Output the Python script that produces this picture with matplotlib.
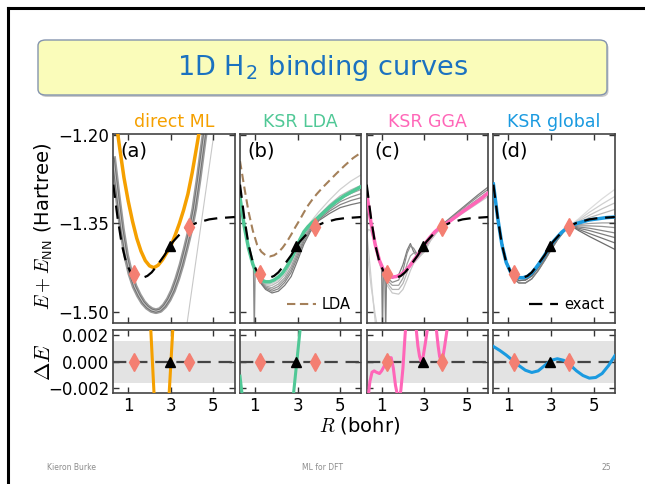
import numpy as np
import matplotlib
matplotlib.use("Agg")
import matplotlib.pyplot as plt
from matplotlib.patches import FancyBboxPatch
from matplotlib.lines import Line2D
from matplotlib.ticker import FuncFormatter

plt.rcParams["font.family"] = ["DejaVu Sans"]
plt.rcParams["mathtext.fontset"] = "cm"

# ---- data ----
R_FINE = [0.3, 0.5, 0.7, 0.9, 1.1, 1.3, 1.5, 1.7, 1.9, 2.1, 2.3, 2.5, 2.7,
          2.9, 3.1, 3.3, 3.5, 3.7, 3.9, 4.2, 4.5, 4.8, 5.2, 5.6, 6.0]
E_EXACT = [-1.284, -1.340, -1.386, -1.416, -1.432, -1.439, -1.442, -1.442, -1.439,
           -1.433, -1.424, -1.414, -1.404, -1.392, -1.381, -1.373, -1.365, -1.359,
           -1.354, -1.349, -1.346, -1.343, -1.341, -1.340, -1.339]
E_GLOBAL = [-1.283, -1.340, -1.386, -1.416, -1.432, -1.439, -1.442, -1.442, -1.440,
            -1.434, -1.425, -1.415, -1.404, -1.392, -1.381, -1.373, -1.365, -1.359,
            -1.354, -1.350, -1.347, -1.344, -1.342, -1.340, -1.339]
E_KSR_LDA = [-1.306, -1.355, -1.392, -1.419, -1.437, -1.446, -1.449, -1.449, -1.446,
             -1.441, -1.434, -1.423, -1.410, -1.395, -1.378, -1.364, -1.355, -1.348,
             -1.342, -1.332, -1.322, -1.313, -1.303, -1.295, -1.287]
E_LDA = [-1.244, -1.288, -1.330, -1.362, -1.386, -1.398, -1.404, -1.406, -1.404,
         -1.399, -1.391, -1.381, -1.369, -1.356, -1.344, -1.331, -1.319, -1.309,
         -1.300, -1.288, -1.277, -1.266, -1.252, -1.239, -1.229]
E_KSR_GGA = [-1.298, -1.349, -1.386, -1.413, -1.430, -1.438, -1.441, -1.440, -1.437,
             -1.431, -1.423, -1.413, -1.403, -1.392, -1.381, -1.372, -1.364, -1.358,
             -1.353, -1.346, -1.338, -1.330, -1.320, -1.310, -1.298]

R_ML = [0.48, 0.6, 0.8, 1.0, 1.2, 1.4, 1.6, 1.8, 2.0, 2.2, 2.4, 2.6, 2.8, 3.0,
        3.2, 3.4, 3.6, 3.8, 4.0, 4.2, 4.35]
E_ML = [-1.190, -1.222, -1.272, -1.312, -1.346, -1.375, -1.397, -1.413, -1.422,
        -1.425, -1.421, -1.412, -1.400, -1.388, -1.370, -1.350, -1.327, -1.300,
        -1.264, -1.222, -1.190]

# grey ensembles
R_GA = [0.3, 0.5, 0.7, 0.9, 1.1, 1.3, 1.5, 1.7, 1.9, 2.1, 2.3, 2.5, 2.7, 2.9,
        3.1, 3.3, 3.5, 3.7, 3.9, 4.1, 4.3, 4.5, 4.65]
E_GA = [-1.241, -1.302, -1.359, -1.404, -1.435, -1.457, -1.472, -1.484, -1.492,
        -1.497, -1.499, -1.497, -1.490, -1.479, -1.464, -1.444, -1.420, -1.392,
        -1.362, -1.325, -1.275, -1.220, -1.180]
R_GA_OUT = [3.7, 5.05]
E_GA_OUT = [-1.535, -1.190]

R_GB = [0.3, 0.6, 0.9, 1.2, 1.5, 1.8, 2.1, 2.4, 2.7, 3.0, 3.3, 3.6, 4.0, 4.5, 5.0, 5.5, 6.0]
E_GB = [
    [-1.306, -1.375, -1.420, -1.443, -1.452, -1.452, -1.446, -1.432, -1.410, -1.385, -1.365, -1.348, -1.330, -1.310, -1.292, -1.278, -1.267],
    [-1.306, -1.375, -1.420, -1.444, -1.454, -1.455, -1.449, -1.437, -1.417, -1.391, -1.368, -1.352, -1.336, -1.318, -1.303, -1.293, -1.285],
    [-1.306, -1.375, -1.420, -1.445, -1.456, -1.459, -1.453, -1.442, -1.423, -1.397, -1.372, -1.355, -1.339, -1.322, -1.308, -1.299, -1.292],
    [-1.306, -1.375, -1.420, -1.446, -1.458, -1.462, -1.457, -1.446, -1.428, -1.402, -1.376, -1.358, -1.341, -1.326, -1.313, -1.305, -1.299],
    [-1.306, -1.375, -1.420, -1.447, -1.460, -1.465, -1.461, -1.450, -1.433, -1.407, -1.380, -1.361, -1.343, -1.329, -1.318, -1.311, -1.306],
    [-1.306, -1.375, -1.420, -1.448, -1.462, -1.468, -1.465, -1.455, -1.440, -1.413, -1.385, -1.364, -1.345, -1.333, -1.323, -1.318, -1.314],
]
R_GB_SPIKE = [0.93, 0.97, 1.01]
E_GB_SPIKE = [-1.421, -1.540, -1.430]

R_GC = [0.3, 0.6, 0.9, 1.2, 1.5, 1.8, 2.0, 2.2, 2.35, 2.5, 2.7, 3.0, 3.3, 3.6, 4.0, 4.5, 5.0, 5.5, 6.0]
E_GC = [
    [-1.300, -1.368, -1.413, -1.436, -1.443, -1.437, -1.420, -1.395, -1.384, -1.398, -1.402, -1.389, -1.372, -1.361, -1.347, -1.332, -1.317, -1.302, -1.288],
    [-1.300, -1.368, -1.414, -1.440, -1.450, -1.446, -1.430, -1.400, -1.388, -1.392, -1.404, -1.394, -1.375, -1.362, -1.349, -1.334, -1.319, -1.305, -1.292],
    [-1.300, -1.368, -1.415, -1.444, -1.455, -1.455, -1.443, -1.418, -1.405, -1.400, -1.405, -1.397, -1.377, -1.363, -1.350, -1.336, -1.322, -1.309, -1.296],
    [-1.300, -1.369, -1.417, -1.448, -1.462, -1.462, -1.452, -1.433, -1.418, -1.410, -1.408, -1.398, -1.378, -1.364, -1.351, -1.338, -1.325, -1.312, -1.300],
    [-1.300, -1.369, -1.418, -1.452, -1.468, -1.470, -1.462, -1.445, -1.430, -1.418, -1.410, -1.398, -1.379, -1.365, -1.352, -1.340, -1.328, -1.316, -1.304],
]
R_GC_LEFT = [[0.3, 0.45, 0.6, 0.75], [0.3, 0.5, 0.7, 0.85], [0.3, 0.38, 0.48, 0.6]]
E_GC_LEFT = [[-1.362, -1.420, -1.480, -1.535], [-1.392, -1.455, -1.505, -1.535],
             [-1.368, -1.360, -1.362, -1.375]]
R_GC_SPIKES = [[1.0, 1.04, 1.08], [1.15, 1.19, 1.23]]
E_GC_SPIKES = [[-1.425, -1.540, -1.437], [-1.437, -1.540, -1.440]]

R_GD_CORE = [0.3, 0.6, 0.9, 1.2, 1.5, 1.8, 2.1, 2.4, 2.7, 3.0, 3.3, 3.6, 3.9]
E_GD_CORE = [
    [-1.284, -1.364, -1.414, -1.436, -1.441, -1.440, -1.433, -1.419, -1.404, -1.387, -1.372, -1.361, -1.353],
    [-1.284, -1.364, -1.416, -1.440, -1.447, -1.446, -1.439, -1.425, -1.409, -1.391, -1.375, -1.362, -1.353],
    [-1.284, -1.365, -1.418, -1.443, -1.451, -1.451, -1.444, -1.430, -1.413, -1.395, -1.378, -1.364, -1.353],
]
R_GD_TAIL = [4.3, 4.8, 5.4, 6.0]
E_GD_TAIL = [
    [-1.342, -1.326, -1.308, -1.292],
    [-1.344, -1.331, -1.317, -1.304],
    [-1.346, -1.336, -1.325, -1.315],
    [-1.348, -1.340, -1.333, -1.326],
    [-1.350, -1.345, -1.341, -1.338],
    [-1.352, -1.350, -1.349, -1.349],
    [-1.354, -1.354, -1.355, -1.357],
    [-1.356, -1.358, -1.362, -1.366],
    [-1.358, -1.362, -1.368, -1.374],
    [-1.360, -1.367, -1.375, -1.383],
    [-1.362, -1.372, -1.383, -1.394],
]

# training / validation molecules
R_TRAIN = [1.26, 3.83]
E_TRAIN = [-1.436, -1.356]
R_VALID = [2.95]
E_VALID = [-1.389]

# energy errors (Hartree)
R_DE_ML = [2.05, 2.22, np.nan, 2.91, 3.10]
DE_ML = [0.0027, -0.0027, np.nan, -0.0027, 0.0027]
R_DE_LDA = [0.3, 0.42, np.nan, 2.80, 3.13]
DE_LDA = [-0.0011, -0.0028, np.nan, -0.0026, 0.0026]
R_DE_GGA = [0.35, 0.45, 0.55, 0.65, 0.75, 0.9, 1.0, 1.1, 1.22, 1.35, 1.45, 1.55, 1.65,
            1.75, 1.82, 1.9, 2.0, 2.1, 2.3, 2.5, 2.62, 2.7, 2.78, 2.86, 2.95, 3.05,
            3.15, 3.3, 3.5, 3.57, 3.65, 3.72, 3.8, 3.88, 3.96, 4.05, 4.15]
DE_GGA = [-0.0030, -0.0015, -0.0008, -0.0007, -0.0008, -0.0009, -0.0007, -0.0004, 0.0,
          0.0003, 0.0003, -0.0005, -0.0018, -0.0026, -0.0028, -0.0022, -0.0005, 0.0020,
          0.0060, 0.0060, 0.0025, 0.0012, 0.0004, 0.0000, 0.0004, 0.0014, 0.0025,
          0.0060, 0.0060, 0.0024, 0.0012, 0.0004, 0.0000, 0.0004, 0.0012, 0.0022, 0.0034]
R_DE_GLOBAL = [0.3, 0.6, 0.9, 1.2, 1.5, 1.8, 2.1, 2.4, 2.7, 3.0, 3.3, 3.6, 3.9,
               4.2, 4.5, 4.8, 5.1, 5.4, 5.7, 6.0]
DE_GLOBAL = [0.00115, 0.00085, 0.0005, 0.0001, -0.0003, -0.00065, -0.00082, -0.0007,
             -0.0003, 0.0001, 0.00022, 0.0001, -0.00025, -0.0007, -0.00105, -0.00125,
             -0.0012, -0.0009, -0.0003, 0.00045]
CHEM_ACC = 0.0016

TITLES = ["direct ML", "KSR LDA", "KSR GGA", "KSR global"]
LETTERS = ["(a)", "(b)", "(c)", "(d)"]

ORANGE = "#F5A000"
GREEN = "#50C896"
PINK = "#FF66B8"
BLUE = "#1A9AE0"
SALMON = "#F47F72"
BROWN = "#A4805A"
COLORS = [ORANGE, GREEN, PINK, BLUE]

W, H = 645, 484
fig = plt.figure(figsize=(W / 100, H / 100), dpi=100)

# slide decorations
fig.add_artist(Line2D([8 / W, 8 / W], [0, 1 - 8 / H], color="black", lw=2.2))
fig.add_artist(Line2D([8 / W, 1], [1 - 8 / H, 1 - 8 / H], color="black", lw=2.2))
box_x, box_y, box_w, box_h = 38 / W, 1 - 95 / H, 569 / W, 55 / H
fig.add_artist(FancyBboxPatch((box_x + 1.5 / W, box_y - 2 / H), box_w, box_h,
                              boxstyle="round,pad=0,rounding_size=0.012",
                              transform=fig.transFigure, fc="#c9c9c9", ec="none"))
fig.add_artist(FancyBboxPatch((box_x, box_y), box_w, box_h,
                              boxstyle="round,pad=0,rounding_size=0.012",
                              transform=fig.transFigure, fc="#FAFCBA", ec="#8494AE", lw=1))
fig.text(box_x + box_w / 2, box_y + box_h / 2, "1D H$_\\mathregular{2}$ binding curves",
         ha="center", va="center", fontsize=19.5, color="#1B72C0")
fig.text(47 / W, 1 - 467 / H, "Kieron Burke", fontsize=5.5, color="#8c8c8c", va="center")
fig.text(323 / W, 1 - 467 / H, "ML for DFT", fontsize=5.5, color="#8c8c8c",
         va="center", ha="center")
fig.text(611 / W, 1 - 467 / H, "25", fontsize=5.5, color="#8c8c8c", va="center", ha="right")

lefts = [113.3, 240.0, 366.7, 493.4]
pw = 121.5
top_axes, bot_axes = [], []
for left in lefts:
    top_axes.append(fig.add_axes([left / W, 1 - 323 / H, pw / W, 189 / H]))
    bot_axes.append(fig.add_axes([left / W, 1 - 393.3 / H, pw / W, 63.3 / H]))

minus = lambda fmt: FuncFormatter(lambda v, p: (fmt % v).replace("-", "\u2212"))

for i, (ax, bx) in enumerate(zip(top_axes, bot_axes)):
    for a in (ax, bx):
        a.set_xlim(0.3, 6.0)
        a.set_xticks([1, 3, 5])
        a.tick_params(direction="in", top=True, right=True, length=4, width=1,
                      labelsize=12, color="#333333", pad=3)
        for s in a.spines.values():
            s.set_color("#444444")
            s.set_linewidth(1.2)
    ax.set_ylim(-1.519, -1.198)
    ax.set_yticks([-1.50, -1.35, -1.20])
    bx.set_ylim(-0.0024, 0.0024)
    bx.set_yticks([-0.002, 0.0, 0.002])
    ax.tick_params(labelbottom=False)
    if i == 0:
        ax.yaxis.set_major_formatter(minus("%.2f"))
        bx.yaxis.set_major_formatter(minus("%.3f"))
    else:
        ax.tick_params(labelleft=False)
        bx.tick_params(labelleft=False)
    ax.text(0.5, 1.063, TITLES[i], transform=ax.transAxes, ha="center", va="center",
            fontsize=12.5, color=COLORS[i])
    ax.text(0.06, 0.91, LETTERS[i], transform=ax.transAxes, ha="left", va="center",
            fontsize=14)

    # error panel background
    bx.axhspan(-CHEM_ACC, CHEM_ACC, color="#e3e3e3", lw=0, zorder=0)
    bx.axhline(0, color="#444444", lw=1.6, dashes=(6, 3.5), zorder=2)
    bx.plot(R_TRAIN, [0, 0], ls="none", marker="d", ms=9, color=SALMON, zorder=5)
    bx.plot(R_VALID, [0], ls="none", marker="^", ms=7.5, color="black", zorder=5)

ax_a, ax_b, ax_c, ax_d = top_axes

# (a) direct ML
ax_a.plot(R_GA, E_GA, color="#9a9a9a", lw=4.2, zorder=1)
ax_a.plot(R_GA, E_GA, color="#6f6f6f", lw=2.0, zorder=1)
ax_a.plot(R_GA, E_GA, color="#c4c4c4", lw=0.7, zorder=1)
ax_a.plot(R_GA_OUT, E_GA_OUT, color="#c8c8c8", lw=0.8, zorder=1)
ax_a.plot(R_ML, E_ML, color=ORANGE, lw=2.5, zorder=3)

# (b) KSR LDA
greys_b = ["#d0d0d0", "#b8b8b8", "#a4a4a4", "#939393", "#858585", "#777777"]
for e, c in zip(E_GB, greys_b):
    ax_b.plot(R_GB, e, color=c, lw=0.9, zorder=1)
ax_b.plot(R_GB_SPIKE, E_GB_SPIKE, color="#8a8a8a", lw=0.9, zorder=1)
ax_b.plot(R_FINE, E_LDA, color=BROWN, lw=1.5, dashes=(4, 2.2), zorder=2, label="LDA")
ax_b.plot(R_FINE, E_KSR_LDA, color=GREEN, lw=2.5, zorder=3)
ax_b.legend(loc="lower right", frameon=False, fontsize=10.5, handlelength=2.0,
            handletextpad=0.4, borderaxespad=0.35)

# (c) KSR GGA
greys_c = ["#7a7a7a", "#8c8c8c", "#a0a0a0", "#b4b4b4", "#c8c8c8"]
for e, c in zip(E_GC, greys_c):
    ax_c.plot(R_GC, e, color=c, lw=0.9, zorder=1)
for r, e in zip(R_GC_LEFT, E_GC_LEFT):
    ax_c.plot(r, e, color="#cfcfcf", lw=0.9, zorder=1)
for r, e in zip(R_GC_SPIKES, E_GC_SPIKES):
    ax_c.plot(r, e, color="#808080", lw=0.9, zorder=1)
ax_c.plot(R_FINE, E_KSR_GGA, color=PINK, lw=2.5, zorder=3)

# (d) KSR global
greys_d = ["#dcdcdc", "#d0d0d0", "#c4c4c4", "#b8b8b8", "#acacac", "#a0a0a0",
           "#949494", "#888888", "#7e7e7e", "#757575", "#6c6c6c"]
for k, (tail, c) in enumerate(zip(E_GD_TAIL, greys_d)):
    core = E_GD_CORE[k % 3]
    ax_d.plot(R_GD_CORE + R_GD_TAIL, core + tail, color=c, lw=0.9, zorder=1)
ax_d.plot(R_FINE, E_GLOBAL, color=BLUE, lw=2.5, zorder=3)

for i, ax in enumerate(top_axes):
    lbl = "exact" if i == 3 else None
    ax.plot(R_FINE, E_EXACT, color="black", lw=1.6, dashes=(6, 3.5), zorder=4, label=lbl)
    ax.plot(R_TRAIN, E_TRAIN, ls="none", marker="d", ms=9, color=SALMON, zorder=5)
    ax.plot(R_VALID, E_VALID, ls="none", marker="^", ms=7.5, color="black", zorder=5)
ax_d.legend(loc="lower right", frameon=False, fontsize=10.5, handlelength=2.0,
            handletextpad=0.4, borderaxespad=0.35)

# error curves
bot_axes[0].plot(R_DE_ML, DE_ML, color=ORANGE, lw=2.2, zorder=3)
bot_axes[1].plot(R_DE_LDA, DE_LDA, color=GREEN, lw=2.2, zorder=3)
bot_axes[2].plot(R_DE_GGA, DE_GGA, color=PINK, lw=2.2, zorder=3)
bot_axes[3].plot(R_DE_GLOBAL, DE_GLOBAL, color=BLUE, lw=2.2, zorder=3)

fig.text(44 / W, 1 - 226 / H, "$E + E_{\\mathsf{NN}}$ (Hartree)", rotation=90,
         ha="center", va="center", fontsize=14)
fig.text(44 / W, 1 - 362 / H, "$\\Delta E$", rotation=90, ha="center", va="center",
         fontsize=16)
fig.text(360 / W, 1 - 425 / H, "$R$ (bohr)", ha="center", va="center", fontsize=14)

fig.savefig("out.png", dpi=100)
